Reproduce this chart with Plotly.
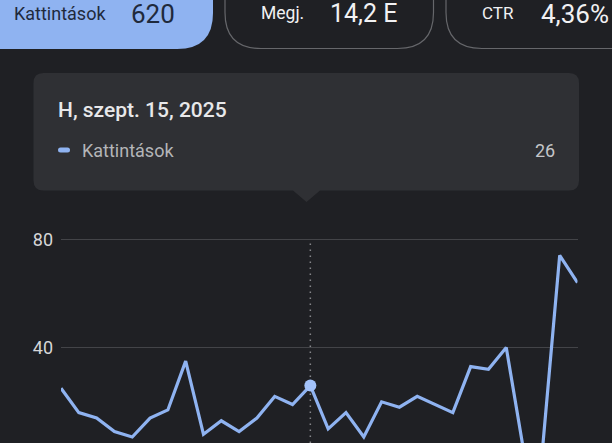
import plotly.graph_objects as go

W, H = 612, 443
days = list(range(30))
clicks = [25, 16, 14, 9, 7, 14, 17, 35, 8, 13, 9, 14, 22, 19, 26,
          10, 16, 7, 20, 18, 22, 19, 16, 33, 32, 40, 1, 0, 74, 64]
focus_index = 14
y_ticks = [40, 80]

BG = "#1f2024"
BLUE = "#8fb3f1"
PANEL = "#2f3034"
PX_PER_UNIT = 2.71
Y_ZERO_PX = 456


def px(x):
    return x / W


def py(y):
    return 1 - y / H


def rounded(x0, y0, x1, y1, r, extra=""):
    return (
        f"M{px(x0 + r)},{py(y0)} L{px(x1 - r)},{py(y0)} Q{px(x1)},{py(y0)} {px(x1)},{py(y0 + r)} "
        f"L{px(x1)},{py(y1 - r)} Q{px(x1)},{py(y1)} {px(x1 - r)},{py(y1)} {extra}"
        f"L{px(x0 + r)},{py(y1)} Q{px(x0)},{py(y1)} {px(x0)},{py(y1 - r)} "
        f"L{px(x0)},{py(y0 + r)} Q{px(x0)},{py(y0)} {px(x0 + r)},{py(y0)} Z"
    )


def panel(path, fill, line="rgba(0,0,0,0)", width=0):
    return dict(type="path", xref="paper", yref="paper", path=path, fillcolor=fill,
                line=dict(color=line, width=width), layer="below")


arrow = f"L{px(320)},{py(190.5)} L{px(306.5)},{py(202)} L{px(293)},{py(190.5)} "
shapes = [
    panel(rounded(-60, -60, 213, 49, 36), BLUE),
    panel(rounded(225, -60, 433.5, 48.5, 36), BG, "#66676b", 1.2),
    panel(rounded(446, -60, 700, 48.5, 36), BG, "#66676b", 1.2),
    panel(rounded(33.5, 73, 579, 190.5, 10, arrow), PANEL),
    panel(rounded(58, 147.5, 70, 152.5, 2.5), BLUE),
    dict(type="line", xref="x", yref="y", x0=days[focus_index], x1=days[focus_index],
         y0=(Y_ZERO_PX - H) / PX_PER_UNIT, y1=y_ticks[-1],
         line=dict(color="#85868a", width=1.5, dash="1.5px,4.5px"), layer="below"),
]


def label(text, x, y, size, color, anchor="left", weight=400):
    return dict(text=text, x=px(x), y=py(y), xref="paper", yref="paper", showarrow=False,
                xanchor=anchor, yanchor="middle", align=anchor,
                font=dict(family="Roboto", size=size, color=color, weight=weight))


annotations = [
    label("Kattintások", 12, 13, 18, "#1f2a3c"),
    label("620", 128.5, 14, 26, "#1f2a3c"),
    label("Megj.", 259, 13, 17.5, "#f1f1f3"),
    label("14,2 E", 328, 14, 25, "#f1f1f3"),
    label("CTR", 480, 13, 17, "#f1f1f3"),
    label("4,36%", 539, 14, 26, "#f1f1f3"),
    label("H, szept. 15, 2025", 56, 110, 21, "#e8e8ea", weight=500),
    label("Kattintások", 80, 150, 18, "#b4b5b8"),
    label("26", 557, 150, 18, "#c4c5c8", anchor="right"),
]

fig = go.Figure()
fig.add_trace(go.Scatter(x=days, y=clicks, mode="lines", line=dict(color=BLUE, width=3.2),
                         cliponaxis=True, hoverinfo="skip"))
fig.add_trace(go.Scatter(x=[days[focus_index]], y=[clicks[focus_index]], mode="markers",
                         marker=dict(color="#a2c2fa", size=12), cliponaxis=False, hoverinfo="skip"))

fig.update_layout(
    width=W, height=H, autosize=False, margin=dict(l=0, r=0, t=0, b=0),
    paper_bgcolor=BG, plot_bgcolor=BG, showlegend=False,
    shapes=shapes, annotations=annotations,
    xaxis=dict(domain=[px(61), px(577.5)], range=[0, 29], showgrid=False, zeroline=False,
               showticklabels=False, ticks="", showline=False, fixedrange=True),
    yaxis=dict(domain=[0, py(229)],
               range=[(Y_ZERO_PX - H) / PX_PER_UNIT, (Y_ZERO_PX - 229) / PX_PER_UNIT],
               tickvals=y_ticks,
               showgrid=True, gridcolor="#434448", gridwidth=1.2, zeroline=False, showline=False,
               ticks="", tickfont=dict(family="Roboto", size=18, color="#d6d6d8"),
               ticklabelstandoff=7, fixedrange=True),
)
fig.write_html(
    "out.html",
    config=dict(displayModeBar=False),
    post_script="document.documentElement.style.background='#1f2024';"
                "document.body.style.margin='0';document.body.style.overflow='hidden';",
)
